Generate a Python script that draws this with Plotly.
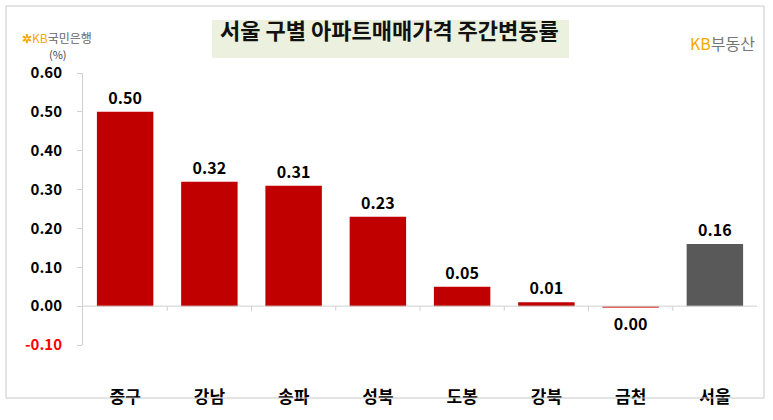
import plotly.graph_objects as go

categories = ["중구", "강남", "송파", "성북", "도봉", "강북", "금천", "서울"]
values = [0.50, 0.32, 0.31, 0.23, 0.05, 0.01, -0.003, 0.16]
labels = ["0.50", "0.32", "0.31", "0.23", "0.05", "0.01", "0.00", "0.16"]
colors = ["#C00000"] * 6 + ["#E06666", "#595959"]
ytick_vals = [-0.1, 0, 0.1, 0.2, 0.3, 0.4, 0.5, 0.6]
ytick_text = ["<span style='color:#FF0000'>-0.10</span>", "0.00", "0.10", "0.20", "0.30", "0.40", "0.50", "0.60"]

W, H = 773, 420
FONT = "Noto Sans CJK KR"

fig = go.Figure(go.Bar(
    x=categories, y=values, marker=dict(color=colors, line=dict(width=0)),
    text=labels, textposition="outside", cliponaxis=False,
    textfont=dict(family=FONT, size=16, color="#000000"),
))
fig.update_traces(texttemplate="<b>%{text}</b>")

fig.update_layout(
    width=W, height=H, margin=dict(l=0, r=0, t=0, b=0, autoexpand=False),
    paper_bgcolor="white", plot_bgcolor="white", showlegend=False,
    bargap=0.33,
    xaxis=dict(domain=[83 / W, 757 / W], showline=False, ticks="", showgrid=False, automargin=False,
               tickprefix="<b>", ticksuffix="</b>",
               tickfont=dict(family=FONT, size=17, color="#000"), anchor="free", position=1 - 385 / H),
    yaxis=dict(domain=[1 - 345 / H, 1 - 73 / H], range=[-0.1, 0.6], tickvals=ytick_vals,
               ticktext=["<b>" + t + "</b>" for t in ytick_text], showgrid=False, zeroline=False, showline=True,
               automargin=False,
               linecolor="#D0D0D0", linewidth=1, ticks="outside", ticklen=5, tickcolor="#D0D0D0",
               tickfont=dict(family=FONT, size=15, color="#000"), ticklabelstandoff=12),
    font=dict(family=FONT),
)

shapes = [
    dict(type="rect", xref="paper", yref="paper", x0=6 / W, x1=764 / W, y0=1 - 398 / H, y1=1 - 6 / H,
         line=dict(color="#C8C8C8", width=1)),
    dict(type="line", xref="x domain", yref="y", x0=0, x1=1, y0=0, y1=0,
         line=dict(color="#D0D0D0", width=1)),
    dict(type="rect", xref="paper", yref="paper", x0=212 / W, x1=569 / W, y0=1 - 58 / H, y1=1 - 20 / H,
         fillcolor="#EBF1DE", line=dict(width=0), layer="below"),
]
for i in range(1, 8):
    shapes.append(dict(type="line", xref="x domain", yref="y", x0=i / 8, x1=i / 8, y0=0, y1=-0.012,
                       line=dict(color="#D0D0D0", width=1)))
fig.update_layout(shapes=shapes)

fig.add_annotation(xref="paper", yref="paper", x=390 / W, y=1 - 29 / H, yanchor="middle",
                   text="<b>서울 구별 아파트매매가격 주간변동률</b>",
                   showarrow=False, font=dict(family=FONT, size=22, color="#111"))
fig.add_annotation(xref="paper", yref="paper", x=20 / W, y=1 - 27 / H, xanchor="left",
                   text="<span style='color:#F5A800'><b>✲</b></span><span style='color:#F5A800'>KB</span><span style='color:#666'>국민은행</span>",
                   showarrow=False, font=dict(family=FONT, size=12, color="#666"))
fig.add_annotation(xref="paper", yref="paper", x=757 / W, y=1 - 29 / H, xanchor="right",
                   text="<span style='color:#F5A800'>KB</span><span style='color:#777'>부동산</span>",
                   showarrow=False, font=dict(family=FONT, size=16))
fig.add_annotation(xref="paper", yref="paper", x=47 / W, y=1 - 44 / H,
                   text="(%)", showarrow=False, font=dict(family=FONT, size=11, color="#444"))

fig.write_html("out.html", post_script="document.body.style.margin='0';",
               config={"displayModeBar": False})
